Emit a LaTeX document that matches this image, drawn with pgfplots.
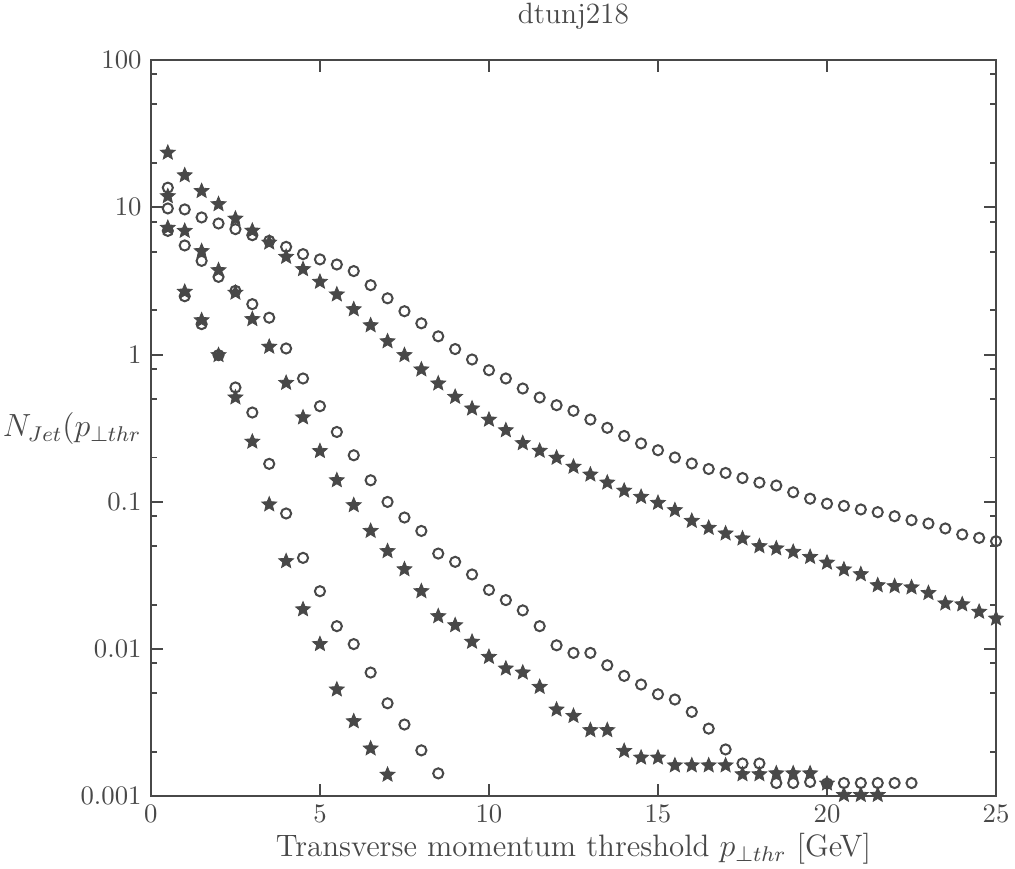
\documentclass[border=0pt]{standalone}
\usepackage{pgfplots}
\pgfplotsset{compat=1.18}
\definecolor{ink}{RGB}{72,72,72}
\pgfdeclareplotmark{fstar}{%
  \pgfpathmoveto{\pgfpointpolar{90}{\pgfplotmarksize}}%
  \pgfpathlineto{\pgfpointpolar{126}{0.45\pgfplotmarksize}}%
  \pgfpathlineto{\pgfpointpolar{162}{\pgfplotmarksize}}%
  \pgfpathlineto{\pgfpointpolar{198}{0.45\pgfplotmarksize}}%
  \pgfpathlineto{\pgfpointpolar{234}{\pgfplotmarksize}}%
  \pgfpathlineto{\pgfpointpolar{270}{0.45\pgfplotmarksize}}%
  \pgfpathlineto{\pgfpointpolar{306}{\pgfplotmarksize}}%
  \pgfpathlineto{\pgfpointpolar{342}{0.45\pgfplotmarksize}}%
  \pgfpathlineto{\pgfpointpolar{18}{\pgfplotmarksize}}%
  \pgfpathlineto{\pgfpointpolar{54}{0.45\pgfplotmarksize}}%
  \pgfpathclose
  \pgfusepathqfillstroke
}
\pgfplotsset{
  circ/.style={only marks, mark=o, mark size=1.9pt, color=ink, mark options={line width=0.75pt}},
  stars/.style={only marks, mark=fstar, mark size=2.9pt, color=ink, mark options={fill=ink, line width=0.3pt}},
}
\begin{document}
\begin{tikzpicture}
\begin{axis}[
  name=ax,
  scale only axis,
  width=316.4pt, height=275.6pt,
  xmin=0, xmax=25,
  ymode=log, ymin=0.001, ymax=100,
  clip=false,
  axis line style={ink, line width=0.7pt},
  every tick/.style={ink, line width=0.7pt},
  major tick length=4.5pt,
  minor tick length=2.3pt,
  xtick={0,5,10,15,20,25},
  ytick={0.001,0.01,0.1,1,10,100},
  yticklabels={0.001,0.01,0.1,1,10,100},
  minor ytick={0.002,0.005,0.008,0.02,0.05,0.08,0.2,0.5,0.8,2,5,8,20,50,80},
  tick label style={font=\fontsize{10}{11}\selectfont, text=ink},
  title={dtunj218},
  title style={font=\fontsize{11}{13}\selectfont, text=ink, yshift=2pt},
  xlabel={Transverse momentum threshold $p_{\perp thr}$ [GeV]},
  xlabel style={font=\fontsize{11.6}{13}\selectfont, text=ink, yshift=3pt},
  ylabel={$N_{Jet}(p_{\perp thr}$},
  every axis y label/.style={at={(axis description cs:0,0.5)}, anchor=east, xshift=0pt,
    font=\fontsize{11.6}{13}\selectfont, text=ink},
]
% top circles
\addplot[circ] coordinates {(0.5,9.83)(1,9.68)(1.5,8.54)(2,7.77)(2.5,7.11)(3,6.47)(3.5,5.92)(4,5.39)(4.5,4.81)(5,4.43)(5.5,4.09)(6,3.69)(6.5,2.96)(7,2.41)(7.5,1.97)(8,1.63)(8.5,1.33)(9,1.09)(9.5,0.926)(10,0.783)(10.5,0.688)(11,0.588)(11.5,0.511)(12,0.453)(12.5,0.415)(13,0.362)(13.5,0.318)(14,0.280)(14.5,0.249)(15,0.224)(15.5,0.200)(16,0.182)(16.5,0.167)(17,0.157)(17.5,0.145)(18,0.135)(18.5,0.129)(19,0.116)(19.5,0.105)(20,0.0971)(20.5,0.0938)(21,0.0887)(21.5,0.0850)(22,0.0798)(22.5,0.0750)(23,0.0712)(23.5,0.0659)(24,0.0600)(24.5,0.0569)(25,0.0540)};
% top stars
\addplot[stars] coordinates {(0.5,23.5)(1,16.5)(1.5,12.9)(2,10.5)(2.5,8.38)(3,6.94)(3.5,5.76)(4,4.61)(4.5,3.80)(5,3.12)(5.5,2.56)(6,2.03)(6.5,1.58)(7,1.23)(7.5,0.991)(8,0.792)(8.5,0.636)(9,0.516)(9.5,0.430)(10,0.361)(10.5,0.306)(11,0.250)(11.5,0.222)(12,0.199)(12.5,0.173)(13,0.153)(13.5,0.135)(14,0.119)(14.5,0.108)(15,0.0983)(15.5,0.0877)(16,0.0742)(16.5,0.0665)(17,0.0609)(17.5,0.0563)(18,0.0499)(18.5,0.0482)(19,0.0457)(19.5,0.0422)(20,0.0386)(20.5,0.0347)(21,0.0322)(21.5,0.0271)(22,0.0267)(22.5,0.0262)(23,0.0240)(23.5,0.0204)(24,0.0201)(24.5,0.0179)(25,0.0161)};
% middle circles
\addplot[circ] coordinates {(0.5,13.6)(1,5.51)(1.5,4.33)(2,3.37)(2.5,2.71)(3,2.20)(3.5,1.78)(4,1.10)(4.5,0.688)(5,0.446)(5.5,0.298)(6,0.207)(6.5,0.140)(7,0.0998)(7.5,0.0782)(8,0.0634)(8.5,0.0445)(9,0.0391)(9.5,0.0321)(10,0.0252)(10.5,0.0215)(11,0.0183)(11.5,0.0143)(12,0.0106)(12.5,0.00941)(13,0.00941)(13.5,0.00776)(14,0.00657)(14.5,0.00574)(15,0.00493)(15.5,0.00454)(16,0.00374)(16.5,0.00288)(17,0.00208)(17.5,0.00167)(18,0.00167)(18.5,0.00123)(19,0.00123)(19.5,0.00125)(20,0.00122)(20.5,0.00123)(21,0.00123)(21.5,0.00123)(22,0.00123)(22.5,0.00123)};
% middle stars
\addplot[stars] coordinates {(0.5,11.9)(1,6.92)(1.5,5.04)(2,3.74)(2.5,2.63)(3,1.74)(3.5,1.13)(4,0.642)(4.5,0.374)(5,0.221)(5.5,0.140)(6,0.0948)(6.5,0.0634)(7,0.0462)(7.5,0.0348)(8,0.0247)(8.5,0.0167)(9,0.0145)(9.5,0.0112)(10,0.00884)(10.5,0.00737)(11,0.00692)(11.5,0.00553)(12,0.00388)(12.5,0.00351)(13,0.00281)(13.5,0.00281)(14,0.00203)(14.5,0.00183)(15,0.00183)(15.5,0.00162)(16,0.00162)(16.5,0.00162)(17,0.00162)(17.5,0.00141)(18,0.00141)(18.5,0.00143)(19,0.00143)(19.5,0.00143)(20,0.00122)(20.5,0.00102)(21,0.00102)(21.5,0.00102)};
% steep circles
\addplot[circ] coordinates {(0.5,6.92)(1,2.49)(1.5,1.61)(2,0.991)(2.5,0.598)(3,0.404)(3.5,0.181)(4,0.0833)(4.5,0.0416)(5,0.0247)(5.5,0.0143)(6,0.0108)(6.5,0.00692)(7,0.00428)(7.5,0.00307)(8,0.00205)(8.5,0.00143)};
% steep stars
\addplot[stars] coordinates {(0.5,7.26)(1,2.67)(1.5,1.71)(2,0.991)(2.5,0.511)(3,0.256)(3.5,0.0959)(4,0.0395)(4.5,0.0186)(5,0.0108)(5.5,0.00531)(6,0.00323)(6.5,0.00211)(7,0.00140)};
\end{axis}
\pgfresetboundingbox
\path ([xshift=-56.5pt,yshift=-27pt]ax.south west) rectangle ([xshift=7.1pt,yshift=22.5pt]ax.north east);
\end{tikzpicture}
\end{document}
